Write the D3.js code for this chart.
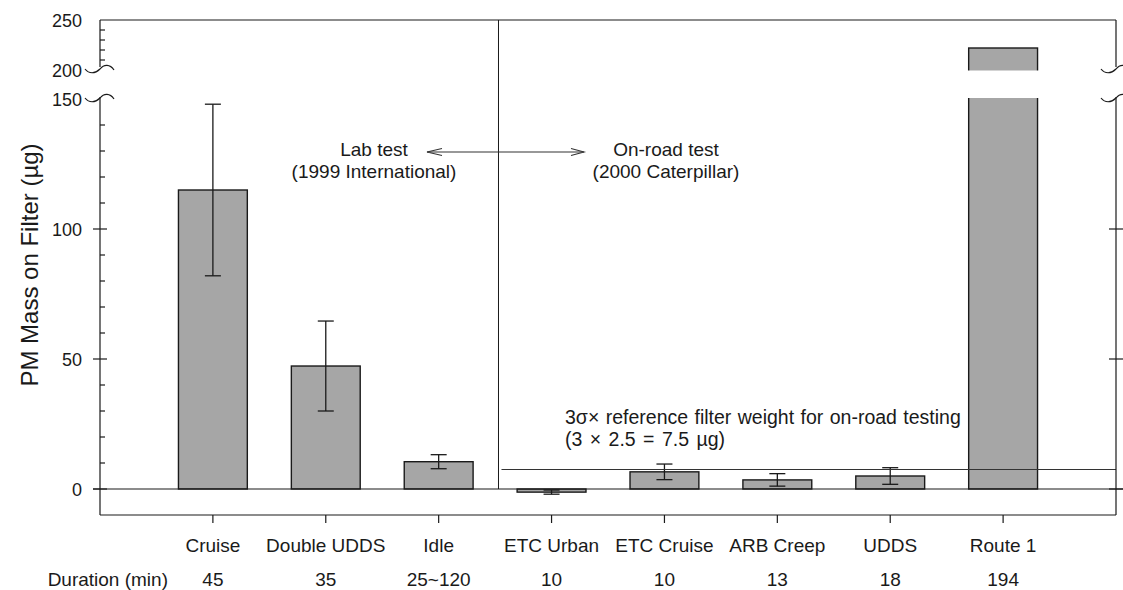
<!DOCTYPE html>
<html><head><meta charset="utf-8">
<script src="https://cdn.jsdelivr.net/npm/d3@7"></script>
<style>
html,body{margin:0;padding:0;background:#fff;}
svg{display:block;font-family:"Liberation Sans",Arial,sans-serif;}
</style></head>
<body>
<svg id="chart" width="1123" height="590"></svg>
<script>
const categories = ["Cruise","Double UDDS","Idle","ETC Urban","ETC Cruise","ARB Creep","UDDS","Route 1"];
const durations = ["45","35","25~120","10","10","13","18","194"];
const pmMass = [115, 47.3, 10.5, -1.2, 6.6, 3.5, 5.0, 222];
const pmError = [33, 17.3, 2.7, 0.8, 3.0, 2.4, 3.2, null];
const majorTicks = [0, 50, 100, 150, 200, 250];
const minorTicks = [10,20,30,40,60,70,80,90,110,120,130,140,210,220,230,240];
const rightTicks = [0, 50, 100];
const refValue = 7.5;
const breakLow = 150, breakHigh = 200;

const svg = d3.select("#chart");
const L = 100, R = 1116;
// piecewise y scale with broken axis between 150 and 200
const y = d3.scaleLinear().domain([-10, 150, 200, 250]).range([515, 99, 70, 20]);
const x = d3.scalePoint().domain(categories).range([L, R]).padding(1);
const step = x.step();
const bw = step * 0.61;
const ink = "#1a1a1a";

const data = categories.map((c,i)=>({c, v:pmMass[i], e:pmError[i], d:durations[i]}));

// bars
svg.append("g").selectAll("rect").data(data).join("rect")
  .attr("x", d=>x(d.c)-bw/2)
  .attr("y", d=>y(Math.max(0,d.v)))
  .attr("width", bw)
  .attr("height", d=>Math.abs(y(d.v)-y(0)))
  .attr("fill", "#a6a6a6").attr("stroke", ink).attr("stroke-width", 1.4);

// break gap across tall bar
svg.append("g").selectAll("rect").data(data.filter(d=>d.v>breakHigh)).join("rect")
  .attr("x", d=>x(d.c)-bw/2-2).attr("width", bw+4)
  .attr("y", y(breakHigh)+0.5).attr("height", y(breakLow)-y(breakHigh)-1.5)
  .attr("fill", "#fff");

// error bars
const eg = svg.append("g").attr("stroke", ink).attr("stroke-width", 1.3);
data.filter(d=>d.e!=null).forEach(d=>{
  const cx = x(d.c);
  eg.append("line").attr("x1",cx).attr("x2",cx).attr("y1",y(d.v+d.e)).attr("y2",y(d.v-d.e));
  [d.v+d.e, d.v-d.e].forEach(v=>{
    eg.append("line").attr("x1",cx-8).attr("x2",cx+8).attr("y1",y(v)).attr("y2",y(v));
  });
});

// divider between lab and on-road
const divX = x("ETC Urban") - step*0.47;
svg.append("line").attr("x1",divX).attr("x2",divX).attr("y1",y(250)).attr("y2",y(0))
  .attr("stroke", ink).attr("stroke-width",1);

// reference line
svg.append("line").attr("x1",divX+3).attr("x2",R).attr("y1",y(refValue)).attr("y2",y(refValue))
  .attr("stroke","#333").attr("stroke-width",1);

// zero line
svg.append("line").attr("x1",L-7).attr("x2",R+7).attr("y1",y(0)).attr("y2",y(0))
  .attr("stroke",ink).attr("stroke-width",1.2);

// frame
const frame = svg.append("g").attr("stroke",ink).attr("stroke-width",1.2).attr("fill","none");
frame.append("line").attr("x1",L).attr("x2",R).attr("y1",y(250)).attr("y2",y(250));
frame.append("line").attr("x1",L).attr("x2",R).attr("y1",y(-10)).attr("y2",y(-10));
[L,R].forEach(ax=>{
  frame.append("line").attr("x1",ax).attr("x2",ax).attr("y1",y(250)).attr("y2",y(breakHigh)-3);
  frame.append("line").attr("x1",ax).attr("x2",ax).attr("y1",y(breakLow)-2).attr("y2",y(-10));
  [y(breakHigh)-1, y(breakLow)-1].forEach(cy=>{
    frame.append("path").attr("d",
      `M${ax-15},${cy} C${ax-11},${cy+5} ${ax-5},${cy+5} ${ax},${cy} C${ax+4},${cy-5} ${ax+10},${cy-5} ${ax+14},${cy+1}`);
  });
});

// left ticks
const tk = svg.append("g").attr("stroke",ink).attr("stroke-width",1.2);
majorTicks.filter(v=>v!==breakLow && v!==breakHigh && v!==250).forEach(v=>{
  tk.append("line").attr("x1",L-7).attr("x2",L+7).attr("y1",y(v)).attr("y2",y(v));
});
minorTicks.forEach(v=>{
  tk.append("line").attr("x1",L).attr("x2",L+5).attr("y1",y(v)).attr("y2",y(v));
});
rightTicks.forEach(v=>{
  tk.append("line").attr("x1",R-7).attr("x2",R+7).attr("y1",y(v)).attr("y2",y(v));
});
// bottom ticks
categories.forEach(c=>{
  tk.append("line").attr("x1",x(c)).attr("x2",x(c)).attr("y1",y(-10)).attr("y2",y(-10)+8);
});

// tick labels
svg.append("g").selectAll("text").data(majorTicks).join("text")
  .attr("x", 82).attr("y", d=>y(d)+6.5).attr("text-anchor","end")
  .attr("font-size", 18).attr("fill", ink).text(d=>d);

// category labels and durations
svg.append("g").selectAll("text").data(data).join("text")
  .attr("x", d=>x(d.c)).attr("y", 552).attr("text-anchor","middle")
  .attr("font-size", 19).attr("fill", ink).text(d=>d.c);
svg.append("g").selectAll("text").data(data).join("text")
  .attr("x", d=>x(d.c)).attr("y", 586).attr("text-anchor","middle")
  .attr("font-size", 19).attr("fill", ink).text(d=>d.d);
svg.append("text").attr("x", 168).attr("y", 586).attr("text-anchor","end")
  .attr("font-size", 19).attr("fill", ink).text("Duration (min)");

// y title
svg.append("text").attr("transform","translate(38,265) rotate(-90)")
  .attr("text-anchor","middle").attr("font-size",24).attr("fill",ink)
  .text("PM Mass on Filter (µg)");

// annotations
const ann = svg.append("g").attr("font-size",19).attr("fill",ink).attr("text-anchor","middle");
ann.append("text").attr("x",374).attr("y",156).text("Lab test");
ann.append("text").attr("x",374).attr("y",178).text("(1999 International)");
ann.append("text").attr("x",666).attr("y",156).text("On-road test");
ann.append("text").attr("x",666).attr("y",178).text("(2000 Caterpillar)");

const ay = 152, ax1 = 427, ax2 = 584;
const ar = svg.append("g").attr("stroke","#333").attr("stroke-width",1.1).attr("fill","none");
ar.append("line").attr("x1",ax1).attr("x2",ax2).attr("y1",ay).attr("y2",ay);
ar.append("path").attr("d",`M${ax1+15},${ay-3.5} L${ax1},${ay} L${ax1+15},${ay+3.5}`);
ar.append("path").attr("d",`M${ax2-13},${ay-3.5} L${ax2},${ay} L${ax2-13},${ay+3.5}`);

const rt = svg.append("g").attr("font-size",19.5).attr("fill",ink);
rt.append("text").attr("x",565).attr("y",424).attr("word-spacing",1).text("3σ× reference filter weight for on-road testing");
rt.append("text").attr("x",565).attr("y",446).attr("word-spacing",2).text("(3 × 2.5 = 7.5 µg)");
</script>
</body></html>
